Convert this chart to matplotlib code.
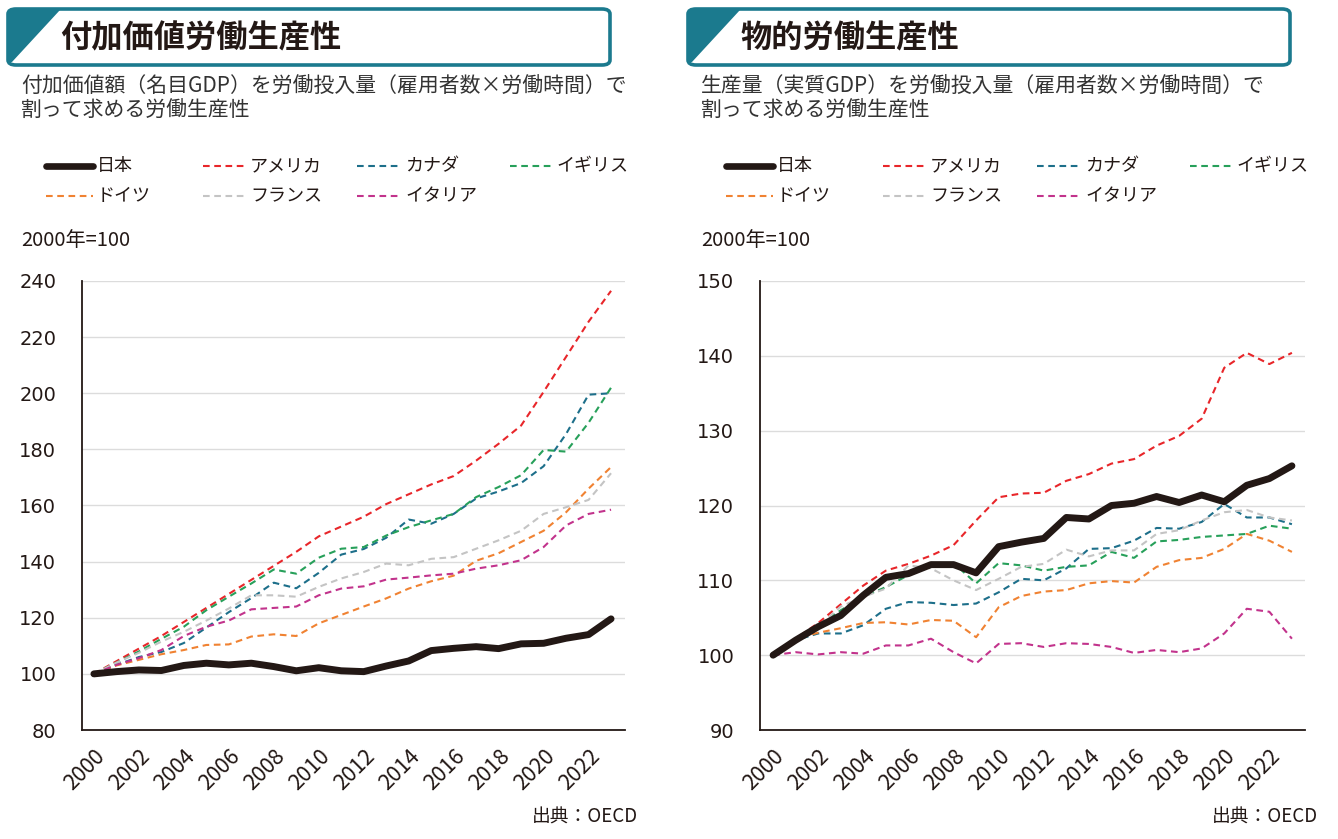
import matplotlib
matplotlib.use("Agg")
import matplotlib.pyplot as plt
from matplotlib.patches import FancyBboxPatch, Polygon
from matplotlib.lines import Line2D

plt.rcParams['font.family'] = ['Noto Sans CJK JP', 'DejaVu Sans']

years = list(range(2000, 2024))
countries = ["日本", "アメリカ", "カナダ", "イギリス", "ドイツ", "フランス", "イタリア"]
colors = ["#231815", "#e8262a", "#1d6f8a", "#27a05a", "#f08232", "#c4c4c4", "#c2338c"]

# 付加価値労働生産性 (名目)
nominal_japan = [100, 100.8, 101.4, 101.2, 103.0, 103.8, 103.2, 103.8, 102.6, 101.1, 102.2, 101.1,
                 100.8, 102.8, 104.6, 108.3, 109.1, 109.7, 109.0, 110.7, 110.9, 112.7, 114.0, 119.6]
nominal_usa = [100, 104.5, 109, 113.5, 118.5, 123.5, 128.5, 133.5, 138.5, 143.5, 149, 152.5,
               156, 160.5, 164, 167.5, 170.5, 176, 182, 188.5, 200.5, 213, 225.5, 236.5]
nominal_canada = [100, 103.2, 106, 107.8, 111, 116.5, 122, 127, 132.5, 130.5, 136, 142.5,
                  144.5, 148.5, 155, 153.5, 157, 162.5, 165, 168, 174, 185.5, 199.5, 200]
nominal_uk = [100, 104, 108, 112.5, 116.8, 122.7, 127.5, 132.2, 137.2, 135.7, 141.4, 144.6,
              145.2, 149.3, 152.3, 154.7, 157, 163, 166.6, 170.8, 179.8, 179.2, 189.5, 202]
nominal_germany = [100, 103, 105, 107, 108.5, 110.3, 110.5, 113.3, 114.1, 113.5, 118, 121,
                   124, 126.9, 130.4, 133, 135, 140.3, 143, 147, 151, 157.6, 166, 173.7]
nominal_france = [100, 104, 107.5, 111.5, 115, 119, 123.3, 128, 128, 127.5, 131, 134,
                  136.3, 139.3, 138.7, 141, 141.6, 144.6, 147.6, 151, 157, 159.4, 162, 171.5]
nominal_italy = [100, 103.2, 105.6, 108.5, 113.5, 116.8, 119, 123, 123.5, 124, 128, 130.4,
                 131.2, 133.6, 134.3, 135.1, 135.7, 137.5, 138.7, 140.5, 145.2, 152.9, 157, 158.5]

# 物的労働生産性 (実質)
real_japan = [100, 102, 103.8, 105.3, 108, 110.4, 110.9, 112.1, 112.1, 111, 114.5, 115.1,
              115.6, 118.4, 118.2, 120, 120.3, 121.2, 120.4, 121.4, 120.5, 122.7, 123.6, 125.3]
real_usa = [100, 102.2, 104.3, 106.8, 109.3, 111.3, 112.2, 113.3, 114.7, 118, 121.1, 121.6,
            121.7, 123.3, 124.2, 125.6, 126.2, 128, 129.3, 131.6, 138.4, 140.4, 138.9, 140.4]
real_canada = [100, 102, 102.9, 102.9, 104, 106.2, 107.1, 107, 106.7, 106.9, 108.4, 110.2,
               110, 111.6, 114.2, 114.3, 115.3, 117, 116.9, 117.8, 120.2, 118.4, 118.4, 117.5]
real_uk = [100, 102, 104, 106, 107.8, 109.1, 110.7, 112.3, 112.3, 109.6, 112.3, 112,
           111.3, 111.8, 112, 113.8, 113, 115.2, 115.4, 115.8, 116, 116.2, 117.3, 116.9]
real_germany = [100, 102.2, 103, 103.6, 104.3, 104.4, 104.1, 104.7, 104.6, 102.4, 106.4, 107.9,
                108.5, 108.7, 109.6, 109.9, 109.7, 111.8, 112.7, 113, 114.2, 116.2, 115.3, 113.8]
real_france = [100, 102, 103.8, 106.5, 107.8, 108.9, 112, 111.6, 110, 108.7, 110.2, 111.8,
               112.2, 114.1, 113.2, 114, 114, 116.2, 116.7, 118, 119.1, 119.4, 118.4, 118]
real_italy = [100, 100.4, 100.1, 100.4, 100.2, 101.3, 101.3, 102.2, 100.4, 98.9, 101.5, 101.6,
              101.1, 101.6, 101.5, 101.1, 100.3, 100.7, 100.4, 100.9, 102.9, 106.2, 105.8, 102.2]

nominal_series = [nominal_japan, nominal_usa, nominal_canada, nominal_uk,
                  nominal_germany, nominal_france, nominal_italy]
real_series = [real_japan, real_usa, real_canada, real_uk,
               real_germany, real_france, real_italy]

titles = ["付加価値労働生産性", "物的労働生産性"]
subtitles = ["付加価値額（名目GDP）を労働投入量（雇用者数×労働時間）で\n割って求める労働生産性",
             "生産量（実質GDP）を労働投入量（雇用者数×労働時間）で\n割って求める労働生産性"]
unit_label = "2000年=100"
source_label = "出典：OECD"
x_ticks = list(range(2000, 2023, 2))
y_ticks_left = list(range(80, 241, 20))
y_ticks_right = list(range(90, 151, 10))

W, H = 1338, 839
fig = plt.figure(figsize=(W / 100, H / 100), dpi=100)

def fx(x):
    return x / W

def fy(y):
    return 1 - y / H

TEAL = "#1b7a8e"
TEXT = "#231815"
SUB = "#333333"
DASH = (0, (3.2, 2.2))

def panel(off, title, subtitle, series, yticks, ylim, axes_px, xlim):
    # header box
    x0, x1, y0, y1 = 8 + off, 610 + off, 9, 65
    box = FancyBboxPatch((fx(x0), fy(y1)), fx(x1 - x0), (y1 - y0) / H,
                         boxstyle="round,pad=0,rounding_size=0.006",
                         transform=fig.transFigure, facecolor="white",
                         edgecolor=TEAL, linewidth=2.6, zorder=2)
    fig.add_artist(box)
    tri = Polygon([(fx(x0 + 1), fy(y0 + 1)), (fx(x0 + 52), fy(y0 + 1)),
                   (fx(x0 + 4), fy(y1 - 3)), (fx(x0 + 1), fy(y1 - 3))],
                  closed=True, transform=fig.transFigure, facecolor=TEAL,
                  edgecolor="none", zorder=3)
    fig.add_artist(tri)
    fig.text(fx(60 + off), fy(38), title, fontsize=22.5, fontweight="bold",
             color=TEXT, va="center", ha="left")
    fig.text(fx(21 + off), fy(76), subtitle, fontsize=15, color=SUB,
             va="top", ha="left", linespacing=1.1)
    # legend
    rows = [166, 196]
    cols = [(46, 93, 97), (203, 246, 250), (357, 402, 405), (510, 555, 556)]
    for i, (name, c) in enumerate(zip(countries, colors)):
        r = 0 if i < 4 else 1
        k = i if i < 4 else i - 4
        xa, xb, xt = cols[k]
        yy = rows[r]
        if i == 0:
            ln = Line2D([fx(xa + off), fx(xb + off)], [fy(yy), fy(yy)], color=c,
                        linewidth=4.8, solid_capstyle="round", transform=fig.transFigure)
        else:
            ln = Line2D([fx(xa + off), fx(xb + off)], [fy(yy), fy(yy)], color=c,
                        linewidth=1.5, linestyle=DASH, transform=fig.transFigure)
        fig.add_artist(ln)
        fig.text(fx(xt + off), fy(yy), name, fontsize=13, color=TEXT,
                 va="center", ha="left")
    fig.text(fx(21 + off), fy(241), unit_label, fontsize=14.5, color=TEXT,
             va="center", ha="left")
    # axes
    l, r_, t, b = axes_px
    ax = fig.add_axes([fx(l), fy(b), fx(r_ - l), (b - t) / H])
    for i, (s, c) in enumerate(zip(series, colors)):
        if i == 0:
            continue
        ax.plot(years, s, color=c, linewidth=1.5, linestyle=DASH, zorder=3)
    ax.plot(years, series[0], color=colors[0], linewidth=5,
            solid_capstyle="round", solid_joinstyle="round", zorder=4)
    ax.set_xlim(*xlim)
    ax.set_ylim(*ylim)
    ax.set_yticks(yticks)
    ax.set_xticks(x_ticks)
    ax.set_xticklabels([str(v) for v in x_ticks], rotation=45, ha="right",
                       rotation_mode="anchor", fontsize=15.5, color=TEXT)
    ax.set_yticklabels([str(v) for v in yticks], fontsize=14, color=TEXT,
                       family="DejaVu Sans")
    ax.tick_params(axis="both", length=0)
    ax.tick_params(axis="y", pad=18.5)
    ax.tick_params(axis="x", pad=11)
    ax.grid(axis="y", color="#dcdcdc", linewidth=1)
    ax.set_axisbelow(True)
    for sp in ["top", "right"]:
        ax.spines[sp].set_visible(False)
    for sp in ["left", "bottom"]:
        ax.spines[sp].set_color("#231815")
        ax.spines[sp].set_linewidth(1.3)
    fig.text(fx(638 + off), fy(817), source_label, fontsize=13.5, color=TEXT,
             va="center", ha="right")
    return ax

panel(0, titles[0], subtitles[0], nominal_series, y_ticks_left, (80, 240),
      (82, 625, 281, 730), (1999.47, 2023.62))
panel(680, titles[1], subtitles[1], real_series, y_ticks_right, (90, 150),
      (760, 1305, 281, 730), (1999.42, 2023.58))

fig.savefig("out.png", dpi=100, facecolor="white")
